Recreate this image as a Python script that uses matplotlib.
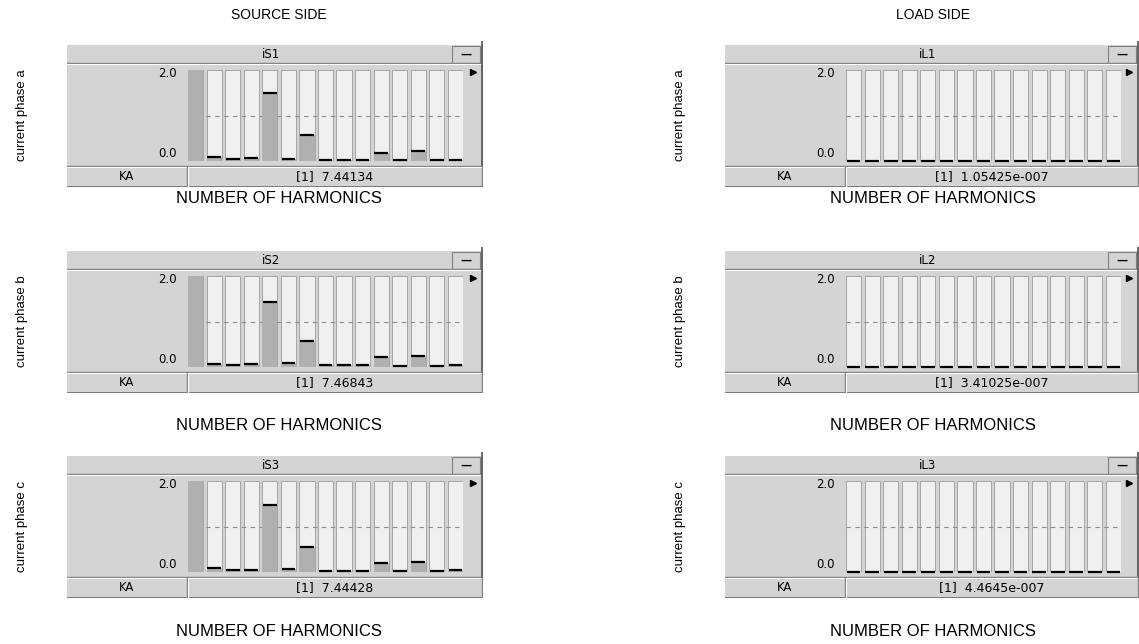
import numpy as np
import matplotlib
matplotlib.use("Agg")
import matplotlib.pyplot as plt
from matplotlib.patches import Rectangle

# harmonic spectra (kA), orders 1..15
orders = np.arange(1, 16)
is1 = [7.44134, 0.09, 0.05, 0.06, 1.49, 0.05, 0.57, 0.03, 0.03, 0.03, 0.18, 0.03, 0.22, 0.03, 0.03]
is2 = [7.46843, 0.07, 0.05, 0.06, 1.43, 0.08, 0.57, 0.04, 0.04, 0.04, 0.21, 0.02, 0.24, 0.03, 0.04]
is3 = [7.44428, 0.08, 0.05, 0.05, 1.47, 0.06, 0.56, 0.03, 0.03, 0.03, 0.19, 0.02, 0.22, 0.03, 0.05]
il1 = [1.05425e-07, 0, 0, 0, 0, 0, 0, 0, 0, 0, 0, 0, 0, 0, 0]
il2 = [3.41025e-07, 0, 0, 0, 0, 0, 0, 0, 0, 0, 0, 0, 0, 0, 0]
il3 = [4.4645e-07, 0, 0, 0, 0, 0, 0, 0, 0, 0, 0, 0, 0, 0, 0]

names = [["iS1", "iS2", "iS3"], ["iL1", "iL2", "iL3"]]
series = [[is1, is2, is3], [il1, il2, il3]]
phases = ["current phase a", "current phase b", "current phase c"]
sides = ["SOURCE SIDE", "LOAD SIDE"]
unit = "KA"
ymax = 2.0

FW, FH = 1139, 644
fig = plt.figure(figsize=(FW / 100, FH / 100), dpi=100)
fig.patch.set_facecolor("white")

LBL = ["Liberation Sans", "DejaVu Sans"]
UI = ["DejaVu Sans"]

BG = "#d4d4d4"
DARK = "#808080"


def px_axes(x, y, w, h):
    return fig.add_axes([x / FW, 1 - (y + h) / FH, w / FW, h / FH])


def readout(v):
    s = f"{v:g}"
    if "e" in s:
        mant, exp = s.split("e")
        s = f"{mant}e{exp[0]}{int(exp[1:]):03d}"
    return s


def widget(left, top, W, name, vals):
    H = 142
    ax = px_axes(left, top - 4, W, H + 4)
    ax.set_xlim(0, W)
    ax.set_ylim(H, -4)
    ax.axis("off")
    ax.add_patch(Rectangle((0, 0), W, H, fc=BG, ec="none"))
    # title bar
    ax.plot([0, W - 3], [18, 18], color=DARK, lw=1)
    ax.plot([0, W - 3], [19, 19], color="white", lw=0.8)
    ax.add_patch(Rectangle((W - 31, 1), 28, 16.5, fc=BG, ec=DARK, lw=0.8))
    ax.text(W - 17, 10, "\u2014", ha="center", va="center", fontsize=8,
            fontweight="bold", family=UI)
    ax.text(W * 0.49, 9.5, name, ha="center", va="center", fontsize=8.5, family=UI)
    ax.plot([W - 1.5, W - 1.5], [-4, 121], color="#505050", lw=1.2)
    # bottom readout bar
    ax.plot([0, W], [121, 121], color=DARK, lw=1)
    ax.plot([0, W], [122, 122], color="white", lw=0.8)
    ax.plot([0, W], [H - 0.5, H - 0.5], color="#6a6a6a", lw=1.2)
    ax.plot([120, 120], [121, H], color=DARK, lw=1)
    ax.plot([121.2, 121.2], [122, H], color="white", lw=0.8)
    ax.plot([W - 1, W - 1], [121, H], color=DARK, lw=1)
    ax.text(60, 131.5, unit, ha="center", va="center", fontsize=8.5, family=UI)
    ax.text((120 + W) / 2, 131.5, f"[1]  {readout(vals[0])}", ha="center",
            va="center", fontsize=9, family=UI)
    # y range labels and scroll arrow
    ax.text(110, 28.5, f"{ymax:.1f}", ha="right", va="center", fontsize=8.5, family=UI)
    ax.text(110, 108.5, f"{0:.1f}", ha="right", va="center", fontsize=8.5, family=UI)
    ax.plot(W - 10, 27, marker=">", ms=4, color="black", mec="black")

    # spectrum bars
    bx = px_axes(left + 121, top + 25, 275, 91)
    v = np.asarray(vals, dtype=float)
    x = np.arange(len(v))
    bw = 0.82
    bx.bar(x, ymax, width=bw, color="#f0f0f0", edgecolor="#a4a4a4", lw=0.7, zorder=1)
    bx.axhline(ymax / 2, color="#8c8c8c", lw=0.8, ls=(0, (4, 4)), zorder=2)
    bx.bar(x, np.minimum(v, ymax), width=bw, color="#b0b0b0", zorder=3)
    m = v < ymax
    bx.hlines(v[m], x[m] - bw / 2 + 0.04, x[m] + bw / 2 - 0.04, colors="black",
              lw=1.6, zorder=4, clip_on=False)
    bx.set_xlim(-bw / 2, len(v) - 1 + bw / 2)
    bx.set_ylim(0, ymax)
    bx.axis("off")


lefts = [67, 725]
widths = [416, 414]
tops = [45, 251, 456]
noh_y = [199, 426, 631]
side_x = [279, 933]
ylab_x = [22, 680]

for c in range(2):
    fig.text(side_x[c] / FW, 1 - 15 / FH, sides[c], ha="center", va="center",
             fontsize=10, family=LBL)
    for r in range(3):
        widget(lefts[c], tops[r], widths[c], names[c][r], series[c][r])
        fig.text(side_x[c] / FW, 1 - noh_y[r] / FH, "NUMBER OF HARMONICS",
                 ha="center", va="center", fontsize=12, family=LBL)
        fig.text(ylab_x[c] / FW, 1 - (tops[r] + 70) / FH, phases[r], rotation=90,
                 ha="center", va="center", fontsize=9.5, family=LBL)

fig.savefig("out.png", dpi=100)
